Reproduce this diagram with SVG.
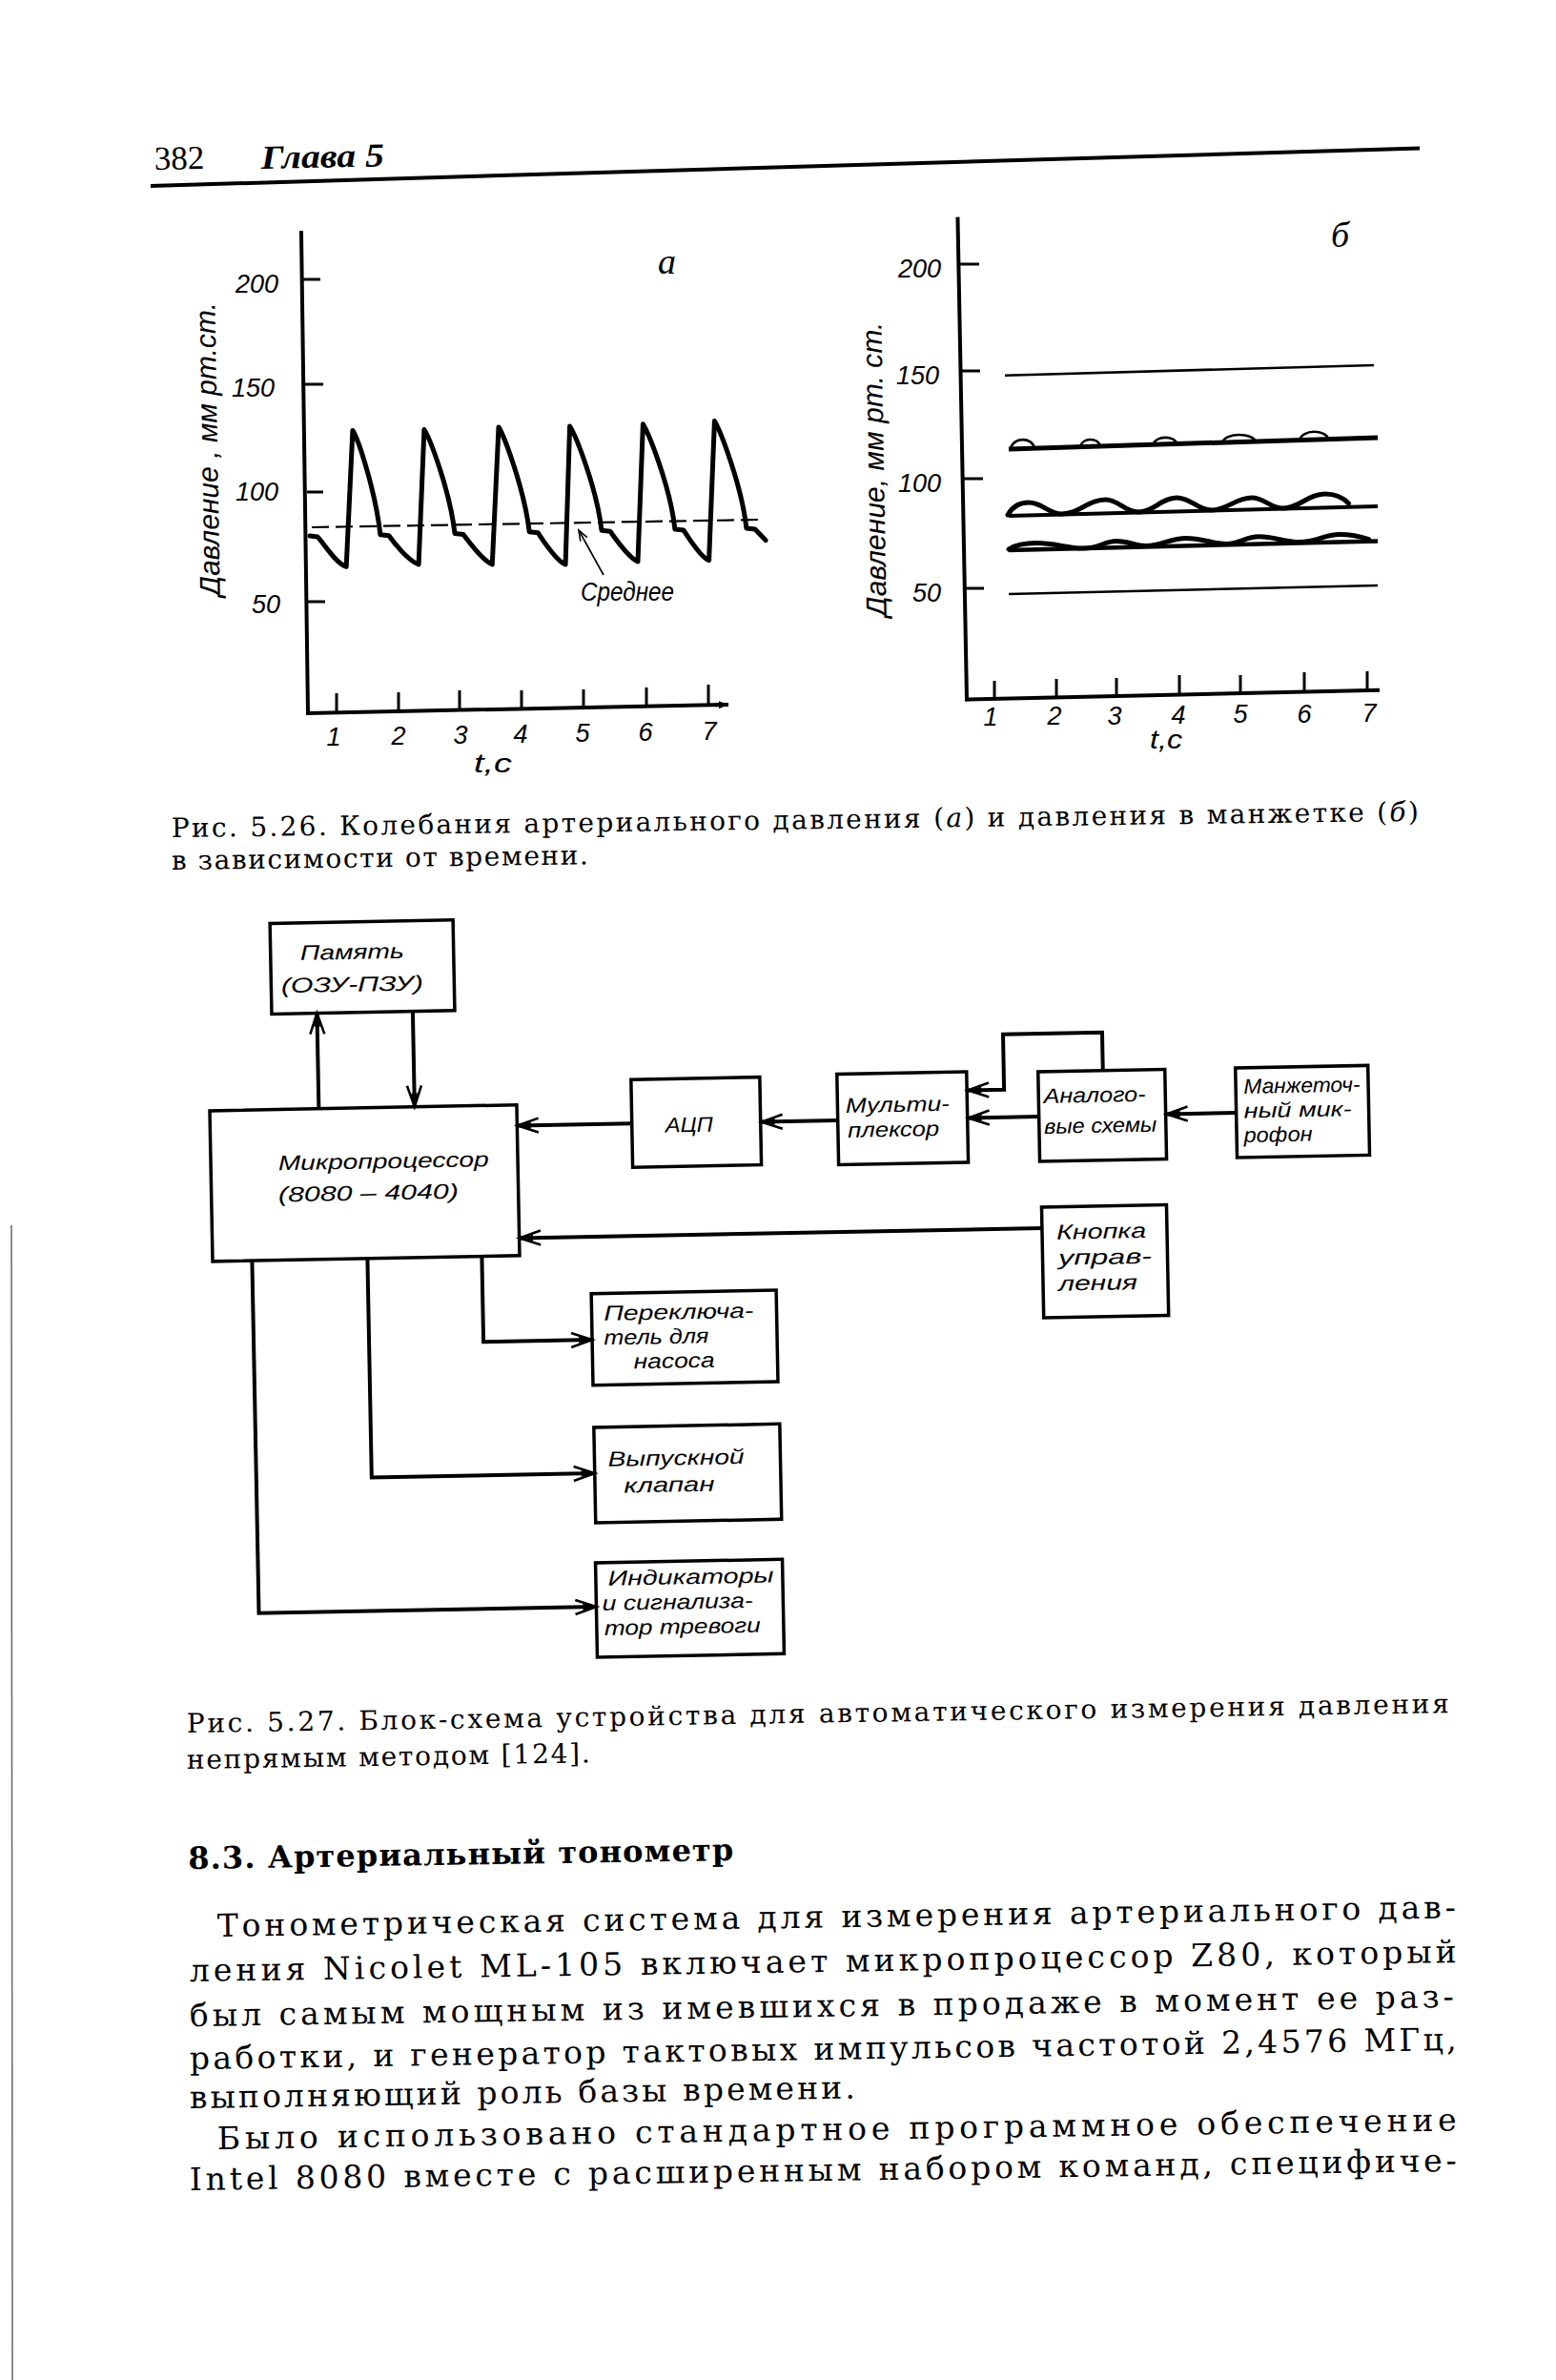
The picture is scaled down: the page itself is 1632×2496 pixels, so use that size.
<svg xmlns="http://www.w3.org/2000/svg" width="1632" height="2496" viewBox="0 0 1632 2496">
<defs>
<style>
.ax{stroke:#000;stroke-width:4;fill:none;stroke-linecap:square}
.tk{stroke:#000;stroke-width:3;fill:none}
.tr{stroke:#000;stroke-width:5;fill:none;stroke-linejoin:round;stroke-linecap:round}
.thin{stroke:#000;stroke-width:2.6;fill:none}
.box{fill:none;stroke:#000;stroke-width:3.5}
.cn{stroke:#000;stroke-width:4;fill:none;marker-end:url(#ah)}
.hand{font-family:"Liberation Sans","DejaVu Sans",sans-serif;font-style:italic;fill:#000}
.lbl{font-size:22px}
.num{font-size:27px}
.ylab{font-size:30px}
.ser{font-family:"DejaVu Serif","Liberation Serif",serif;fill:#000}
.cap{font-size:28px}
.body{font-size:33px}
</style>
<marker id="ah" markerUnits="userSpaceOnUse" markerWidth="30" markerHeight="20" viewBox="-26 -10 30 20" refX="0" refY="0" orient="auto" overflow="visible">
<path d="M-22,-7.5 L0,0 L-22,7.5" fill="none" stroke="#000" stroke-width="2.6"/>
<path d="M0,0 L-14,-3.5 L-14,3.5 Z" fill="#000"/>
</marker>
<marker id="ahs" markerUnits="userSpaceOnUse" markerWidth="16" markerHeight="12" viewBox="-14 -6 16 12" refX="0" refY="0" orient="auto" overflow="visible">
<path d="M-11,-4 L0,0 L-11,4" fill="none" stroke="#000" stroke-width="1.6"/>
</marker>
<marker id="axa" markerUnits="userSpaceOnUse" markerWidth="14" markerHeight="10" viewBox="-12 -5 14 10" refX="0" refY="0" orient="auto" overflow="visible">
<path d="M0,0 L-10,-4 L-10,4 Z" fill="#000"/>
</marker>
</defs>
<rect width="1632" height="2496" fill="#fff"/>

<g id="header">
<text x="162" y="178" font-family="Liberation Serif, serif" font-size="35" transform="rotate(-1.2 162 178)">382</text>
<text x="274" y="177" font-family="Liberation Serif, serif" font-size="35" font-style="italic" font-weight="bold" textLength="129" lengthAdjust="spacingAndGlyphs" transform="rotate(-1.2 274 177)">Глава 5</text>
<line x1="158" y1="195" x2="1489" y2="155.5" stroke="#000" stroke-width="4"/>
</g>

<g id="chart-a">
<polyline class="ax" points="316,244 323,748 757,739"/>
<line x1="750" y1="739.2" x2="764" y2="739" stroke="#000" stroke-width="4" marker-end="url(#axa)"/>
<g class="tk">
<line x1="318" y1="293" x2="336" y2="293"/>
<line x1="320" y1="403" x2="339" y2="403"/>
<line x1="322" y1="516" x2="339" y2="516"/>
<line x1="323" y1="631" x2="341" y2="631"/>
<line x1="353" y1="747" x2="353" y2="727"/>
<line x1="418" y1="746" x2="418" y2="726"/>
<line x1="482" y1="745" x2="482" y2="724"/>
<line x1="547" y1="744" x2="547" y2="724"/>
<line x1="612" y1="743" x2="612" y2="723"/>
<line x1="678" y1="741" x2="678" y2="721"/>
<line x1="743" y1="740" x2="743" y2="718"/>
</g>
<g class="hand num" text-anchor="end">
<text x="292" y="307">200</text>
<text x="288" y="416">150</text>
<text x="292" y="525">100</text>
<text x="294" y="643">50</text>
</g>
<g class="hand num" text-anchor="middle">
<text x="350" y="782">1</text>
<text x="418" y="781">2</text>
<text x="483" y="780">3</text>
<text x="546" y="779">4</text>
<text x="611" y="778">5</text>
<text x="677" y="777">6</text>
<text x="744" y="776">7</text>
<text x="517" y="810" textLength="40" lengthAdjust="spacingAndGlyphs">t,c</text>
</g>
<text class="hand ylab" x="228" y="471" text-anchor="middle" transform="rotate(-91 228 471)" textLength="308" lengthAdjust="spacingAndGlyphs">Давление , мм рт.ст.</text>
<text x="690" y="287" font-family="Liberation Serif, serif" font-style="italic" font-size="38">а</text>
<line x1="327" y1="553" x2="796" y2="545" stroke="#000" stroke-width="2.2" stroke-dasharray="18 7"/>
<path class="tr" d="M325,562 L333,563 C340,570 352,591 363.2,594.3 L369.9,451.4 C376,461 394,516 398.9,560.8 L407.9,561.8 C413,569 428,588 439.1,592 L444.9,450.5 C451,460 472,515 477,559.5 L486,560.5 C491,567 506,588 516.3,592 L523,447.9 C529,458 550,513 555.2,557.7 L564.2,558.7 C569,565.7 583,588 593.1,592 L597.6,447 C604,457 626,512 631,556.3 L640,557.3 C645,564 659,585 669,588.9 L674.4,444.7 C680.5,455 703,510 707.9,555 L716.9,556 C722,563 734,584 743.6,587.6 L749.4,441.6 C755.5,452 778,509 782.9,554 L791.9,555 L803,566.6"/>
<line x1="633" y1="603" x2="607" y2="556" stroke="#000" stroke-width="1.6" marker-end="url(#ahs)"/>
<text class="hand" x="609" y="630" font-size="27" textLength="98" lengthAdjust="spacingAndGlyphs">Среднее</text>
</g>

<g id="chart-b">
<polyline class="ax" points="1004.5,229.6 1014,733.6 1445,723.7"/>
<g class="tk">
<line x1="1006.5" y1="277" x2="1027" y2="277"/>
<line x1="1008.5" y1="389" x2="1028" y2="389"/>
<line x1="1011" y1="502" x2="1031" y2="502"/>
<line x1="1012.5" y1="617" x2="1032" y2="617"/>
<line x1="1043" y1="733" x2="1043" y2="714"/>
<line x1="1108" y1="731.5" x2="1108" y2="712"/>
<line x1="1171" y1="730" x2="1171" y2="711"/>
<line x1="1237" y1="728.5" x2="1237" y2="708"/>
<line x1="1301" y1="727" x2="1301" y2="708"/>
<line x1="1368" y1="725.5" x2="1368" y2="705"/>
<line x1="1434" y1="724" x2="1434" y2="704"/>
</g>
<g class="hand num" text-anchor="end">
<text x="987" y="291">200</text>
<text x="985" y="403">150</text>
<text x="987" y="516">100</text>
<text x="987" y="631">50</text>
</g>
<g class="hand num" text-anchor="middle">
<text x="1039" y="761">1</text>
<text x="1106" y="760">2</text>
<text x="1169" y="760">3</text>
<text x="1236" y="759">4</text>
<text x="1301" y="758">5</text>
<text x="1368" y="758">6</text>
<text x="1436" y="757">7</text>
<text x="1223" y="785" textLength="34" lengthAdjust="spacingAndGlyphs">t,c</text>
</g>
<text class="hand ylab" x="927" y="492" text-anchor="middle" transform="rotate(-91 927 492)" textLength="309" lengthAdjust="spacingAndGlyphs">Давление, мм рт. ст.</text>
<text x="1396" y="259" font-family="Liberation Serif, serif" font-style="italic" font-size="38">б</text>
<line class="thin" x1="1054" y1="393.7" x2="1441" y2="383"/>
<line x1="1058" y1="471" x2="1445" y2="459" stroke="#000" stroke-width="5"/>
<g class="thin" stroke-width="3.4">
<path d="M1060,470.9 C1062,458 1083,458 1085,470.2"/>
<path d="M1133,468.7 C1135,458.5 1152,458.5 1154,468.1"/>
<path d="M1209.5,466.3 C1212,456.5 1232,456.5 1234.4,465.5"/>
<path d="M1282,464 C1285,453.5 1314,453.5 1316.8,463"/>
<path d="M1362.8,461.6 C1366,450 1390,450 1393.4,460.6"/>
</g>
<line x1="1058" y1="541" x2="1445" y2="531" stroke="#000" stroke-width="4"/>
<path class="tr" stroke-width="5.5" d="M1057,540 C1062,531 1070,527 1079,527 C1093,527 1100,539 1113.7,539 C1132,539 1141,524 1159.7,524 C1173,524 1180,537 1194,537 C1210,537 1218,522 1234.4,522 C1249,522 1256,535 1270.8,535 C1287,535 1296,522 1313,522 C1326,522 1332,533 1345.5,533 C1363,533 1372,518 1389.6,518 C1400,518 1408,521 1414.5,528"/>
<line x1="1058" y1="577" x2="1445" y2="567.6" stroke="#000" stroke-width="4.5"/>
<path class="tr" d="M1058,576 C1066,571 1076,569.6 1087,569.6 C1108,569.6 1118,575 1136.7,575 C1153,575 1158,567.6 1171,567.6 C1185,567.6 1190,572.6 1201.8,572.6 C1219,572.6 1227,564.4 1244,564.4 C1262,564.4 1270,570.4 1286,570.4 C1302,570.4 1305,562.8 1320.6,562.8 C1337,562.8 1347,568.6 1362.8,568.6 C1382,568.6 1388,560.5 1405,560.5 C1420,560.5 1428,563 1435.6,565.6"/>
<line class="thin" x1="1058" y1="623" x2="1445" y2="614"/>
</g>

<g id="caption-5-26" class="ser cap">
<text x="180" y="878" textLength="1308" transform="rotate(-0.75 180 878)">Рис. 5.26. Колебания артериального давления (<tspan font-style="italic">а</tspan>) и давления в манжетке (<tspan font-style="italic">б</tspan>)</text>
<text x="180" y="912" textLength="437" transform="rotate(-0.75 180 912)">в зависимости от времени.</text>
</g>

<g id="block-diagram" transform="rotate(-1.1 520 1350)">
<g id="connectors">
<path class="cn" d="M338,1159 V1059"/>
<path class="cn" d="M438.5,1059 V1159"/>
<path class="cn" stroke-width="5" d="M666,1181 H546"/>
<path class="cn" stroke-width="5" d="M882,1182 H802"/>
<path class="cn" stroke-width="5" d="M1093,1182 H1019"/>
<path class="cn" stroke-width="5" d="M1300,1182 H1227"/>
<path class="cn" stroke-width="4.5" d="M1161,1135 V1095 H1057 V1153 H1019"/>
<path class="cn" d="M1094,1299 H546"/>
<path class="cn" d="M506,1317 V1407 H620"/>
<path class="cn" d="M386,1317 V1547 H620"/>
<path class="cn" d="M265,1317 V1687 H619"/>
</g>
<g id="n-memory">
<rect class="box" x="290.5" y="964" width="192" height="95"/>
<text class="hand lbl" x="321.6" y="1003" font-size="25" textLength="109" lengthAdjust="spacingAndGlyphs">Память</text>
<text class="hand lbl" x="301" y="1037" font-size="25" textLength="149" lengthAdjust="spacingAndGlyphs">(ОЗУ-ПЗУ)</text>
</g>
<g id="n-cpu">
<rect class="box" x="223.6" y="1159.2" width="322" height="158"/>
<text class="hand lbl" x="294.3" y="1223" font-size="27" textLength="221" lengthAdjust="spacingAndGlyphs">Микропроцессор</text>
<text class="hand lbl" x="293.8" y="1256" font-size="27" textLength="189" lengthAdjust="spacingAndGlyphs">(8080 – 4040)</text>
</g>
<g id="n-adc">
<rect class="box" x="666" y="1135" width="135" height="92"/>
<text class="hand lbl" x="701" y="1191" font-size="25" textLength="50" lengthAdjust="spacingAndGlyphs">АЦП</text>
</g>
<g id="n-mux">
<rect class="box" x="882" y="1133.5" width="136" height="95"/>
<text class="hand lbl" x="890.5" y="1174" font-size="23" textLength="109" lengthAdjust="spacingAndGlyphs">Мульти-</text>
<text class="hand lbl" x="892.3" y="1200" font-size="23" textLength="96" lengthAdjust="spacingAndGlyphs">плексор</text>
</g>
<g id="n-analog">
<rect class="box" x="1093" y="1135" width="133" height="94"/>
<text class="hand lbl" x="1098.3" y="1168" font-size="23" textLength="107" lengthAdjust="spacingAndGlyphs">Аналого-</text>
<text class="hand lbl" x="1098.3" y="1200" font-size="23" textLength="118" lengthAdjust="spacingAndGlyphs">вые схемы</text>
</g>
<g id="n-mic">
<rect class="box" x="1300" y="1135" width="139" height="94"/>
<text class="hand lbl" x="1308.3" y="1162" textLength="122" lengthAdjust="spacingAndGlyphs">Манжеточ-</text>
<text class="hand lbl" x="1308" y="1187.5" textLength="113" lengthAdjust="spacingAndGlyphs">ный мик-</text>
<text class="hand lbl" x="1307.5" y="1213" textLength="72" lengthAdjust="spacingAndGlyphs">рофон</text>
</g>
<g id="n-button">
<rect class="box" x="1094" y="1277" width="131" height="116"/>
<text class="hand lbl" x="1109" y="1311" font-size="23" textLength="94" lengthAdjust="spacingAndGlyphs">Кнопка</text>
<text class="hand lbl" x="1110.5" y="1338" font-size="23" textLength="98" lengthAdjust="spacingAndGlyphs">управ-</text>
<text class="hand lbl" x="1110" y="1365" font-size="23" textLength="83" lengthAdjust="spacingAndGlyphs">ления</text>
</g>
<g id="n-pump">
<rect class="box" x="620" y="1358.6" width="194" height="96"/>
<text class="hand lbl" x="632.9" y="1387" textLength="157" lengthAdjust="spacingAndGlyphs">Переключа-</text>
<text class="hand lbl" x="632.4" y="1412.5" textLength="110" lengthAdjust="spacingAndGlyphs">тель для</text>
<text class="hand lbl" x="663.1" y="1438" textLength="85" lengthAdjust="spacingAndGlyphs">насоса</text>
</g>
<g id="n-valve">
<rect class="box" x="620" y="1499" width="195" height="100"/>
<text class="hand lbl" x="634.1" y="1540" font-size="24" textLength="143" lengthAdjust="spacingAndGlyphs">Выпускной</text>
<text class="hand lbl" x="650.4" y="1568" font-size="24" textLength="95" lengthAdjust="spacingAndGlyphs">клапан</text>
</g>
<g id="n-indicators">
<rect class="box" x="619" y="1641" width="196" height="99"/>
<text class="hand lbl" x="631.7" y="1665" textLength="174" lengthAdjust="spacingAndGlyphs">Индикаторы</text>
<text class="hand lbl" x="625.3" y="1691" textLength="158" lengthAdjust="spacingAndGlyphs">и сигнализа-</text>
<text class="hand lbl" x="626.9" y="1717" textLength="164" lengthAdjust="spacingAndGlyphs">тор тревоги</text>
</g>
</g>

<g id="caption-5-27" class="ser cap">
<text x="196" y="1817" textLength="1324" transform="rotate(-0.9 196 1817)">Рис. 5.27. Блок-схема устройства для автоматического измерения давления</text>
<text x="196" y="1855" textLength="423" transform="rotate(-0.9 196 1855)">непрямым методом [124].</text>
</g>

<g id="section-text" class="ser">
<text x="197.5" y="1960" font-size="32" font-weight="bold" textLength="572" transform="rotate(-0.9 197.5 1960)">8.3. Артериальный тонометр</text>
<g class="body">
<text x="228" y="2031" textLength="1299" transform="rotate(-0.86 228 2031)">Тонометрическая система для измерения артериального дав-</text>
<text x="199" y="2078" textLength="1329" transform="rotate(-0.86 199 2078)">ления Nicolet ML-105 включает микропроцессор Z80, который</text>
<text x="199" y="2125" textLength="1326" transform="rotate(-0.86 199 2125)">был самым мощным из имевшихся в продаже в момент ее раз-</text>
<text x="199" y="2170" textLength="1329" transform="rotate(-0.86 199 2170)">работки, и генератор тактовых импульсов частотой 2,4576 МГц,</text>
<text x="199" y="2211" textLength="698" transform="rotate(-0.86 199 2211)">выполняющий роль базы времени.</text>
<text x="228" y="2254" textLength="1300" transform="rotate(-0.86 228 2254)">Было использовано стандартное программное обеспечение</text>
<text x="199" y="2297" textLength="1329" transform="rotate(-0.86 199 2297)">Intel 8080 вместе с расширенным набором команд, специфиче-</text>
</g>
</g>

<line id="scan-edge" x1="12" y1="1285" x2="13" y2="2496" stroke="#666" stroke-width="1.5"/>
</svg>
